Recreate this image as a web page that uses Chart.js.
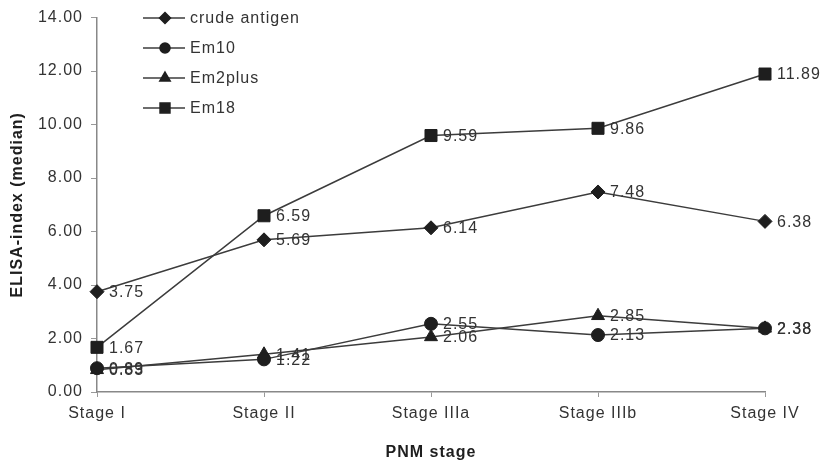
<!DOCTYPE html>
<html>
<head>
<meta charset="utf-8">
<script src="https://cdn.jsdelivr.net/npm/chart.js@4.4.0/dist/chart.umd.min.js"></script>
<style>
  html, body { margin: 0; padding: 0; background: #fff; }
  #wrap { width: 820px; height: 465px; }
</style>
</head>
<body>
<div id="wrap"><canvas id="chart" width="820" height="465"></canvas></div>
<script>
// Dữ liệu
const stages = ["Stage I", "Stage II", "Stage IIIa", "Stage IIIb", "Stage IV"];
const crudeAntigen = [3.75, 5.69, 6.14, 7.48, 6.38];
const em10 = [0.89, 1.22, 2.55, 2.13, 2.38];
const em2plus = [0.83, 1.41, 2.06, 2.85, 2.38];
const em18 = [1.67, 6.59, 9.59, 9.86, 11.89];
const yTicks = [0, 2, 4, 6, 8, 10, 12, 14];

const FONT = "'Liberation Sans', Arial, sans-serif";
const INK = "#1e1e1e";
const TEXT = "#333333";

function serie(label, data, style, radius) {
  return {
    label: label,
    data: data,
    borderColor: "#3c3c3c",
    borderWidth: 1.5,
    backgroundColor: INK,
    pointBackgroundColor: INK,
    pointBorderColor: INK,
    pointStyle: style,
    pointRadius: radius,
    pointBorderWidth: 1,
    tension: 0,
  };
}

// Chữ hơi giãn như bản scan
const spacing = {
  id: "spacing",
  beforeInit(chart) { chart.ctx.letterSpacing = "1px"; },
  beforeDraw(chart) { chart.ctx.letterSpacing = "1px"; },
};

// Nhãn giá trị bên phải mỗi điểm
const valueLabels = {
  id: "valueLabels",
  afterDatasetsDraw(chart) {
    const ctx = chart.ctx;
    ctx.save();
    ctx.font = "16px " + FONT;
    ctx.fillStyle = TEXT;
    ctx.textBaseline = "middle";
    ctx.textAlign = "left";
    chart.data.datasets.forEach((ds, i) => {
      chart.getDatasetMeta(i).data.forEach((pt, j) => {
        ctx.fillText(ds.data[j].toFixed(2), pt.x + 12, pt.y + 1);
      });
    });
    ctx.restore();
  },
};

// Chú thích: đường + ký hiệu
const lineLegend = {
  id: "lineLegend",
  afterDraw(chart) {
    const ctx = chart.ctx;
    const x0 = 143, y0 = 18, step = 30;
    ctx.save();
    ctx.font = "16px " + FONT;
    ctx.textBaseline = "middle";
    chart.data.datasets.forEach((ds, i) => {
      const y = y0 + i * step;
      ctx.strokeStyle = "#3c3c3c";
      ctx.lineWidth = 1.5;
      ctx.beginPath();
      ctx.moveTo(x0, y);
      ctx.lineTo(x0 + 42, y);
      ctx.stroke();
      ctx.fillStyle = INK;
      ctx.strokeStyle = INK;
      Chart.helpers.drawPoint(ctx, { pointStyle: ds.pointStyle, radius: ds.pointRadius - 1.5, rotation: 0, borderWidth: 1 }, x0 + 22, y);
      ctx.fillStyle = TEXT;
      ctx.fillText(ds.label, x0 + 47, y + 1);
    });
    ctx.restore();
  },
};

const config = {
  type: "line",
  data: {
    labels: stages,
    datasets: [
      serie("crude antigen", crudeAntigen, "rectRot", 7),
      serie("Em10", em10, "circle", 6.5),
      serie("Em2plus", em2plus, "triangle", 7.5),
      serie("Em18", em18, "rect", 8.5),
    ],
  },
  options: {
    responsive: false,
    animation: false,
    layout: { padding: { left: 0, top: 12, right: 55, bottom: 0 } },
    plugins: {
      legend: { display: false },
      tooltip: { enabled: false },
    },
    scales: {
      x: {
        offset: false,
        grid: { drawOnChartArea: false, drawTicks: true, tickLength: 5, color: "#999" },
        border: { color: "#888", width: 1.5 },
        ticks: { color: TEXT, font: { family: FONT, size: 16 }, padding: 7, maxRotation: 0 },
        title: { display: true, text: "PNM stage", color: INK, font: { family: FONT, size: 16, weight: "bold" }, padding: { top: 10, bottom: 3 } },
        afterFit(scale) { scale.height = 73; },
      },
      y: {
        min: 0,
        max: 14,
        afterBuildTicks(scale) { scale.ticks = yTicks.map((v) => ({ value: v })); },
        grid: { drawOnChartArea: false, drawTicks: true, tickLength: 6, color: "#999" },
        border: { color: "#888", width: 1.5 },
        ticks: {
          color: TEXT,
          font: { family: FONT, size: 16 },
          padding: 8,
          callback: (v) => Number(v).toFixed(2),
        },
        title: { display: true, text: "ELISA-index (median)", color: INK, font: { family: FONT, size: 16, weight: "bold" }, padding: { top: 8, bottom: 6 } },
        afterFit(scale) { scale.width = 97; },
      },
    },
  },
  plugins: [spacing, valueLabels, lineLegend],
};

new Chart(document.getElementById("chart"), config);
</script>
</body>
</html>
